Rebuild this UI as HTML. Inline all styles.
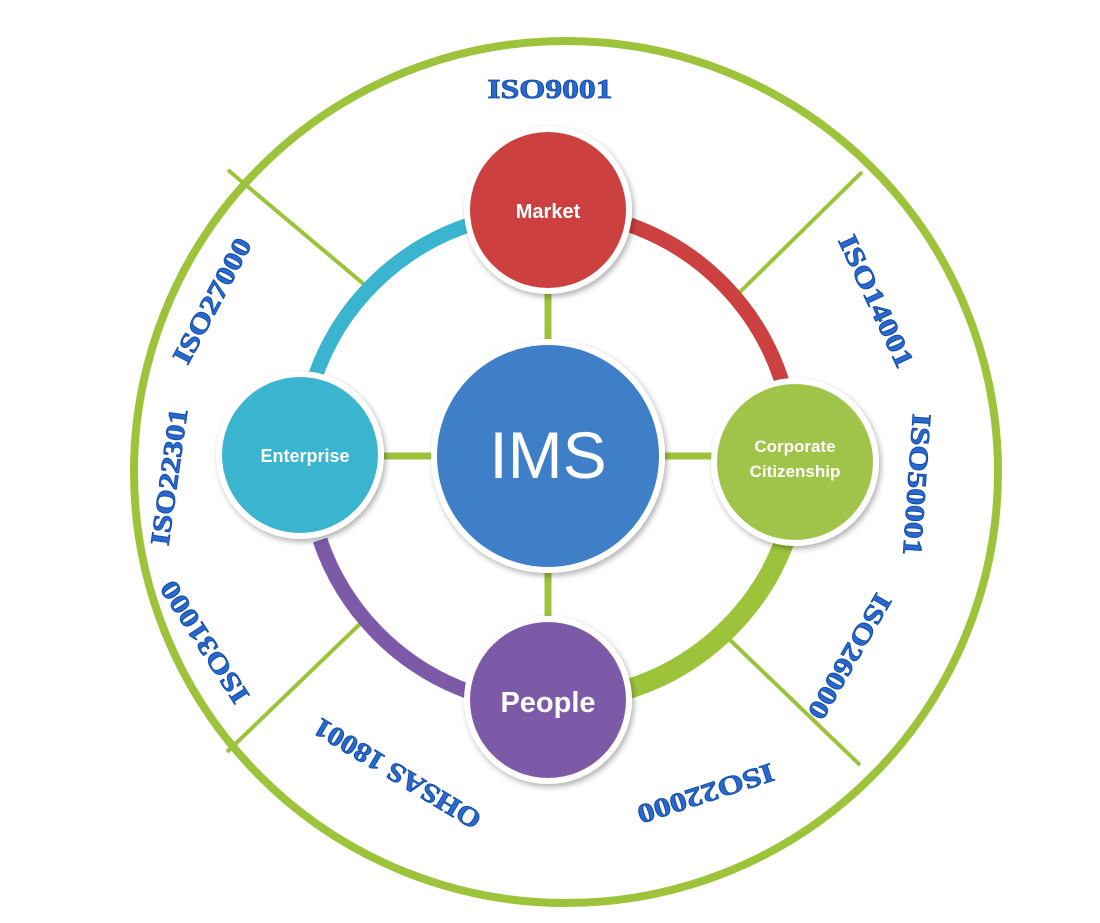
<!DOCTYPE html>
<html><head><meta charset="utf-8"><style>
html,body{margin:0;padding:0;background:#fff;}
svg{display:block}
.iso{font-family:"Liberation Serif",serif;font-weight:bold;font-size:27px;fill:#2a68cc;stroke:#0f4aa8;stroke-width:0.8;}
.lbl{font-family:"Liberation Sans",sans-serif;font-weight:bold;fill:#fff;}
</style></head><body>
<svg width="1100" height="923" viewBox="0 0 1100 923">
<defs>
<filter id="sh" x="-20%" y="-20%" width="140%" height="140%"><feDropShadow dx="2" dy="3" stdDeviation="3" flood-color="#000" flood-opacity="0.3"/></filter>
</defs>
<ellipse cx="566" cy="472" rx="432" ry="431" fill="none" stroke="#9dc33b" stroke-width="8"/>
<g stroke="#9dc33b" stroke-width="4">
<line x1="228" y1="170" x2="366" y2="286"/>
<line x1="862" y1="172" x2="740" y2="292"/>
<line x1="227" y1="752" x2="362" y2="622"/>
<line x1="860" y1="765" x2="730" y2="640"/>
</g>
<g stroke="#9dc33b" stroke-width="7">
<line x1="548" y1="290" x2="548" y2="350"/>
<line x1="548" y1="565" x2="548" y2="625"/>
<line x1="380" y1="456" x2="440" y2="456"/>
<line x1="660" y1="456" x2="720" y2="456"/>
</g>
<g fill="none" stroke-width="15">
<path d="M314 380 A245 245 0 0 1 475 223" stroke="#3bb5cf"/>
<path d="M630 225 A245 245 0 0 1 782 382" stroke="#cc4040"/>
<path d="M785 540 A245 245 0 0 1 625 690" stroke="#9dc33b" stroke-width="20"/>
<path d="M470 692 A245 245 0 0 1 320 540" stroke="#7c5aa8"/>
</g>
<g filter="url(#sh)">
<circle cx="548" cy="456" r="117" fill="#fff"/>
<circle cx="548" cy="210" r="84" fill="#fff"/>
<circle cx="300" cy="455" r="84" fill="#fff"/>
<circle cx="795" cy="462" r="84" fill="#fff"/>
<circle cx="548" cy="700" r="84" fill="#fff"/>
</g>
<circle cx="548" cy="456" r="111" fill="#3f7fc8"/>
<circle cx="548" cy="210" r="78" fill="#cc4040"/>
<circle cx="300" cy="455" r="78" fill="#3bb5cf"/>
<circle cx="795" cy="462" r="78" fill="#a0c44a"/>
<circle cx="548" cy="700" r="78" fill="#7c5aa8"/>
<text x="548" y="478" text-anchor="middle" font-family="Liberation Sans,sans-serif" font-size="66" fill="#fff">IMS</text>
<text x="548" y="218" text-anchor="middle" class="lbl" font-size="20">Market</text>
<text x="305" y="462" text-anchor="middle" class="lbl" font-size="18">Enterprise</text>
<text x="795" y="452" text-anchor="middle" class="lbl" font-size="17" font-weight="normal">Corporate</text>
<text x="795" y="477" text-anchor="middle" class="lbl" font-size="17" font-weight="normal">Citizenship</text>
<text x="548" y="712" text-anchor="middle" class="lbl" font-size="29">People</text>
<g class="iso" text-anchor="middle">
<text transform="translate(550,98)" textLength="125" lengthAdjust="spacingAndGlyphs">ISO9001</text>
<text transform="translate(868,305) rotate(65)" textLength="143" lengthAdjust="spacingAndGlyphs">ISO14001</text>
<text transform="translate(908,484) rotate(94)" textLength="142" lengthAdjust="spacingAndGlyphs">ISO50001</text>
<text transform="translate(842,652) rotate(120)" textLength="140" lengthAdjust="spacingAndGlyphs">ISO26000</text>
<text transform="translate(703,785) rotate(162)" textLength="142" lengthAdjust="spacingAndGlyphs">ISO22000</text>
<text transform="translate(402,766) rotate(211)" textLength="190" lengthAdjust="spacingAndGlyphs">OHSAS 18001</text>
<text transform="translate(212,637) rotate(237)" textLength="140" lengthAdjust="spacingAndGlyphs">ISO31000</text>
<text transform="translate(178,478) rotate(-82)" textLength="138" lengthAdjust="spacingAndGlyphs">ISO22301</text>
<text transform="translate(220,305) rotate(-62)" textLength="138" lengthAdjust="spacingAndGlyphs">ISO27000</text>
</g>
</svg>
</body></html>
